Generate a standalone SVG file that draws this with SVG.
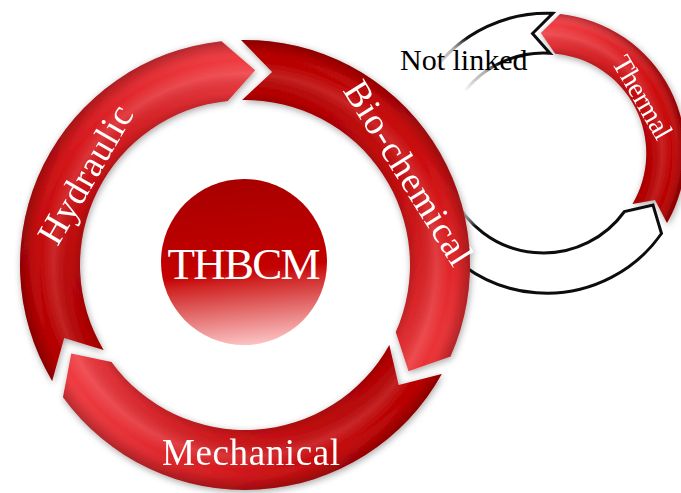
<svg xmlns="http://www.w3.org/2000/svg" width="681" height="493" viewBox="0 0 681 493">
<defs>
<style>
.lbl{font-family:"Liberation Serif","Times New Roman",serif;fill:#ffffff}
.dark{font-family:"Liberation Serif","Times New Roman",serif;fill:#000000}
.shade{fill:url(#tube)}
.shadeS{fill:url(#tubeS)}
</style>
<filter id="sh" x="-20%" y="-20%" width="140%" height="140%">
<feGaussianBlur in="SourceAlpha" stdDeviation="3.5"/>
<feOffset dx="1" dy="2" result="b"/>
<feFlood flood-color="#000" flood-opacity="0.35"/>
<feComposite in2="b" operator="in"/>
<feMerge><feMergeNode/><feMergeNode in="SourceGraphic"/></feMerge>
</filter>
<radialGradient id="tube" gradientUnits="userSpaceOnUse" cx="245" cy="265" r="225">
<stop offset="0.72" stop-color="#000" stop-opacity="0.2"/>
<stop offset="0.77" stop-color="#000" stop-opacity="0.04"/>
<stop offset="0.85" stop-color="#fff" stop-opacity="0.13"/>
<stop offset="0.91" stop-color="#fff" stop-opacity="0"/>
<stop offset="0.96" stop-color="#000" stop-opacity="0.08"/>
<stop offset="1" stop-color="#000" stop-opacity="0.25"/>
</radialGradient>
<radialGradient id="tubeS" gradientUnits="userSpaceOnUse" cx="543" cy="153" r="140">
<stop offset="0.71" stop-color="#000" stop-opacity="0.2"/>
<stop offset="0.77" stop-color="#000" stop-opacity="0.04"/>
<stop offset="0.85" stop-color="#fff" stop-opacity="0.12"/>
<stop offset="0.92" stop-color="#fff" stop-opacity="0"/>
<stop offset="1" stop-color="#000" stop-opacity="0.22"/>
</radialGradient>
<linearGradient id="gH" gradientUnits="userSpaceOnUse" x1="80" y1="360" x2="240" y2="70">
<stop offset="0" stop-color="#b50000"/>
<stop offset="0.5" stop-color="#d21216"/>
<stop offset="1" stop-color="#ee3a40"/>
</linearGradient>
<linearGradient id="gB" gradientUnits="userSpaceOnUse" x1="260" y1="70" x2="410" y2="350">
<stop offset="0" stop-color="#b80000"/>
<stop offset="0.5" stop-color="#cc0c0e"/>
<stop offset="1" stop-color="#ea3236"/>
</linearGradient>
<linearGradient id="gM" gradientUnits="userSpaceOnUse" x1="410" y1="370" x2="80" y2="370">
<stop offset="0" stop-color="#b80000"/>
<stop offset="0.5" stop-color="#d01418"/>
<stop offset="1" stop-color="#ee3a40"/>
</linearGradient>
<linearGradient id="gT" gradientUnits="userSpaceOnUse" x1="640" y1="210" x2="550" y2="30">
<stop offset="0" stop-color="#b80000"/>
<stop offset="0.5" stop-color="#cc0a0c"/>
<stop offset="1" stop-color="#ee3a40"/>
</linearGradient>
<linearGradient id="gC" x1="0.45" y1="0" x2="0.55" y2="1">
<stop offset="0" stop-color="#a80000"/>
<stop offset="0.55" stop-color="#c40000"/>
<stop offset="0.62" stop-color="#d02424"/>
<stop offset="1" stop-color="#fcc4c4"/>
</linearGradient>
<radialGradient id="gO" gradientUnits="userSpaceOnUse" cx="415" cy="135" r="110">
<stop offset="0" stop-color="#000" stop-opacity="0"/>
<stop offset="0.6" stop-color="#000" stop-opacity="0"/>
<stop offset="0.85" stop-color="#555" stop-opacity="0.45"/>
<stop offset="1" stop-color="#000" stop-opacity="0.95"/>
</radialGradient>
</defs>

<g id="small-ring">
<g id="not-linked">
<path d="M661.5,233.5 A140,140 0 1 1 552.77,13.34 L532.54,33.46 L549.98,53.24 A100,100 0 1 0 624.5,211.5 L653,205 Z" fill="#ffffff" stroke="url(#gO)" stroke-width="3" stroke-linejoin="miter"/>
<text class="dark" x="400" y="70" font-size="30">Not linked</text>
</g>
<g id="thermal" filter="url(#sh)">
<path d="M560.06,14.04 A140,140 0 0 1 667,223 L655,200 L632.5,204 A100,100 0 0 0 555.19,53.74 L540.91,33.02 Z" fill="url(#gT)"/>
<path class="shadeS" d="M560.06,14.04 A140,140 0 0 1 667,223 L655,200 L632.5,204 A100,100 0 0 0 555.19,53.74 L540.91,33.02 Z"/>
<text class="lbl" font-size="28" transform="translate(643,97) rotate(60)" x="0" y="10" text-anchor="middle" textLength="92">Thermal</text>
</g>
</g>

<g id="hydraulic" filter="url(#sh)">
<path d="M52.14,380.88 A225,225 0 0 1 221.48,41.23 L255.21,70.27 L227.75,100.90 A165,165 0 0 0 103.57,349.98 L64.20,338.05 Z" fill="url(#gH)"/>
<path class="shade" d="M52.14,380.88 A225,225 0 0 1 221.48,41.23 L255.21,70.27 L227.75,100.90 A165,165 0 0 0 103.57,349.98 L64.20,338.05 Z"/>
<text class="lbl" font-size="37" transform="translate(85.5,174.5) rotate(-60)" x="0" y="12" text-anchor="middle" textLength="154">Hydraulic</text>
</g>

<g id="bio-chemical" filter="url(#sh)">
<path d="M241.07,40.03 A225,225 0 0 1 450.55,356.52 L408.54,371.20 L395.74,332.11 A165,165 0 0 0 242.12,100.02 L272.14,71.90 Z" fill="url(#gB)"/>
<path class="shade" d="M241.07,40.03 A225,225 0 0 1 450.55,356.52 L408.54,371.20 L395.74,332.11 A165,165 0 0 0 242.12,100.02 L272.14,71.90 Z"/>
<text class="lbl" font-size="37" transform="translate(408,173) rotate(58)" x="0" y="12" text-anchor="middle" textLength="210">Bio-chemical</text>
</g>

<g id="mechanical" filter="url(#sh)">
<path d="M441.79,374.08 A225,225 0 0 1 62.97,397.25 L71.25,353.53 L111.51,361.99 A165,165 0 0 0 389.31,344.99 L398.66,385.05 Z" fill="url(#gM)"/>
<path class="shade" d="M441.79,374.08 A225,225 0 0 1 62.97,397.25 L71.25,353.53 L111.51,361.99 A165,165 0 0 0 389.31,344.99 L398.66,385.05 Z"/>
<text class="lbl" font-size="37" x="251" y="465" text-anchor="middle" textLength="178">Mechanical</text>
</g>

<g id="thbcm">
<circle cx="244" cy="262" r="83" fill="url(#gC)"/>
<text class="lbl" font-size="45" x="244" y="279" text-anchor="middle" textLength="153">THBCM</text>
</g>

<g id="connectors"></g>
</svg>
